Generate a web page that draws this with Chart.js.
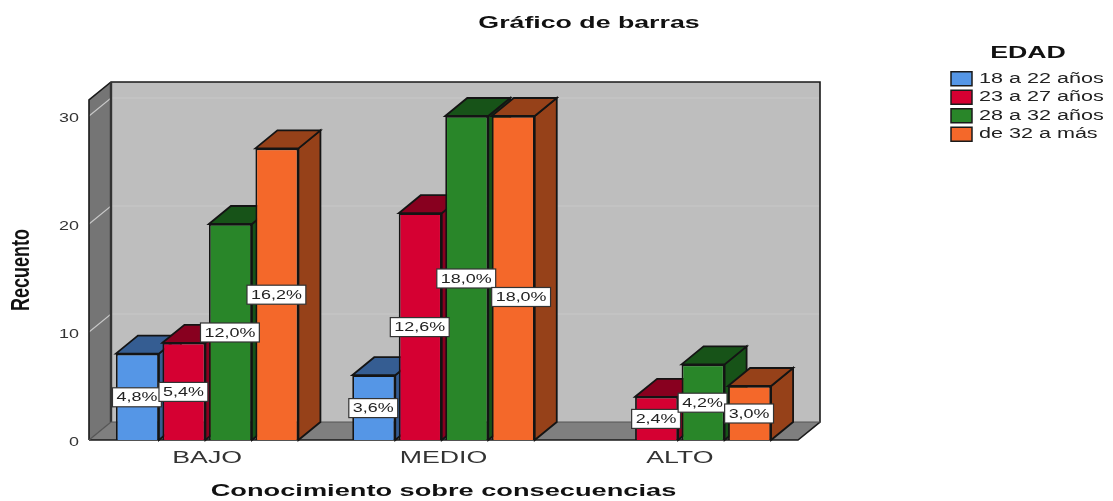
<!DOCTYPE html>
<html><head><meta charset="utf-8">
<style>html,body{margin:0;padding:0;background:#fff}canvas{display:block}</style>
<script src="https://cdn.jsdelivr.net/npm/chart.js@4/dist/chart.umd.js"></script>
</head><body><canvas id="c" width="1113" height="501"></canvas>
<script>
const categories = ['BAJO','MEDIO','ALTO'];
const seriesNames = ['18 a 22 años','23 a 27 años','28 a 32 años','de 32 a más'];
const joven = [8,6,null];
const adulto = [9,21,4];
const medio = [20,30,7];
const mayor = [27,30,5];
const jovenPct = ['4,8%','3,6%',null];
const adultoPct = ['5,4%','12,6%','2,4%'];
const medioPct = ['12,0%','18,0%','4,2%'];
const mayorPct = ['16,2%','18,0%','3,0%'];
const yTicks = [0,10,20,30];
const fronts = ['#5596E6','#D50032','#298629','#F4682A'];
const tops = ['#355D92','#88001F','#175318','#964119'];
const FONT = '"Liberation Sans", Arial, sans-serif';
const DX = 22, DY = 18;

const canvas = document.getElementById('c');
const ctx = canvas.getContext('2d');
const stretch = {'13px':1.38,'14px':1.54,'16px':1.67,'17px':1.6,'25px':0.72};
const rawFill = ctx.fillText.bind(ctx);
ctx.fillText = function(t,x,y,m){
  const k = (ctx.font.match(/(\d+)px/)||[])[0];
  const s = stretch[k]||1;
  ctx.save(); ctx.translate(x,y); ctx.scale(s,1);
  rawFill(t,0,0);
  ctx.restore();
};

function poly(c,pts,fill,stroke,lw){
  c.beginPath(); pts.forEach((p,i)=>i?c.lineTo(p[0],p[1]):c.moveTo(p[0],p[1])); c.closePath();
  if(fill){c.fillStyle=fill;c.fill();}
  if(stroke){c.strokeStyle=stroke;c.lineWidth=lw||1.5;c.stroke();}
}
const scene = {
  id:'scene',
  beforeDraw(chart){
    chart.titleBlock.left = 0; chart.titleBlock.right = 1178;
    const lg = chart.legend;
    lg.left = 946.5; lg.top = 41; lg.width = 163; lg.right = 1109.5; lg.bottom = 160; lg.height = 119;
  },
  beforeDatasetsDraw(chart){
    const c = chart.ctx, a = chart.chartArea, ys = chart.scales.y;
    const L=a.left,R=a.right,T=a.top,B=a.bottom;
    c.save();
    poly(c,[[L+DX,T-DY],[R+DX,T-DY],[R+DX,B-DY],[L+DX,B-DY]],'#BEBEBE');
    poly(c,[[L,T],[L+DX,T-DY],[L+DX,B-DY],[L,B]],'#757575');
    poly(c,[[L,B],[R,B],[R+DX,B-DY],[L+DX,B-DY]],'#7F7F7F');
    c.strokeStyle='#C8C8C8'; c.lineWidth=1.2;
    yTicks.slice(1).forEach(v=>{
      const y=ys.getPixelForValue(v);
      c.beginPath(); c.moveTo(L,y); c.lineTo(L+DX,y-DY); c.lineTo(R+DX,y-DY); c.stroke();
    });
    c.strokeStyle='#1A1A1A'; c.lineWidth=1.6;
    c.beginPath(); c.moveTo(L,B); c.lineTo(L,T); c.lineTo(L+DX,T-DY); c.lineTo(R+DX,T-DY); c.lineTo(R+DX,B-DY); c.lineTo(R,B); c.lineTo(L,B); c.stroke();
    c.lineWidth=2.4; c.strokeStyle='#333';
    c.beginPath(); c.moveTo(L+DX,T-DY); c.lineTo(L+DX,B-DY); c.stroke();
    c.lineWidth=1.2; c.strokeStyle='#555';
    c.beginPath(); c.moveTo(L+DX,B-DY); c.lineTo(R+DX,B-DY); c.stroke();
    c.beginPath(); c.moveTo(L,B); c.lineTo(L+DX,B-DY); c.stroke();
    chart.data.datasets.forEach((ds,i)=>{
      const meta = chart.getDatasetMeta(i);
      meta.data.forEach((b,j)=>{
        if(ds.data[j]==null) return;
        const x0=b.x-b.width/2,x1=b.x+b.width/2,yt=b.y,yb=b.base;
        poly(c,[[x1,yt],[x1+DX,yt-DY],[x1+DX,yb-DY],[x1,yb]],tops[i],'#141414',1.8);
        poly(c,[[x0,yt],[x0+DX,yt-DY],[x1+DX,yt-DY],[x1,yt]],tops[i],'#141414',1.8);
      });
      meta.controller.draw();
    });
    c.restore();
    return false;
  },
  afterDraw(chart){
    const c = chart.ctx;
    const texts=[jovenPct,adultoPct,medioPct,mayorPct];
    c.save();
    c.font='13px '+FONT;
    categories.forEach((_,j)=>{
      let prev=null;
      texts.forEach((arr,i)=>{
        const t=arr[j];
        if(!t) return;
        const b=chart.getDatasetMeta(i).data[j];
        let cx=b.x-0.5;
        let cy=(b.y+b.base)/2+0.5;
        const w=c.measureText(t).width*1.38+8, h=19;
        // a label level with its overlapping neighbour steps down and right of it
        if(prev && Math.abs(prev.cy-cy)<2 && prev.cx+prev.w/2>cx-w/2){
          cy+=h-0.5;
          cx=prev.cx+prev.w/2-4+w/2;
        }
        prev={cx,cy,w};
        c.fillStyle='#FFFFFF'; c.strokeStyle='#333'; c.lineWidth=1.2;
        c.fillRect(cx-w/2,cy-h/2,w,h); c.strokeRect(cx-w/2,cy-h/2,w,h);
        c.fillStyle='#222'; c.textAlign='center'; c.textBaseline='middle';
        c.fillText(t,cx,cy+0.5);
      });
    });
    c.restore();
  }
};

new Chart(ctx,{
  type:'bar',
  plugins:[scene],
  data:{labels:categories,datasets:[joven,adulto,medio,mayor].map((d,i)=>({
    label:seriesNames[i],data:d,backgroundColor:fronts[i],borderColor:'#141414',borderWidth:1.8,
    categoryPercentage:0.787,barPercentage:0.925
  }))},
  options:{
    responsive:false,animation:false,
    layout:{padding:{left:0,top:0,bottom:0,right:315}},
    plugins:{
      title:{display:true,text:'Gráfico de barras',color:'#111',
        font:{family:FONT,size:16,weight:'bold',lineHeight:1.2},padding:{top:14,bottom:66.8}},
      legend:{display:true,position:'chartArea',align:'start',
        title:{display:true,text:'EDAD',color:'#111',font:{family:FONT,size:16,weight:'bold',lineHeight:1.2},padding:{top:5,bottom:2}},
        labels:{color:'#222',font:{family:FONT,size:14},boxWidth:21,boxHeight:14,padding:4.5,
          generateLabels(chart){
            return chart.data.datasets.map((ds,i)=>({text:ds.label,fillStyle:fronts[i],strokeStyle:'#1A1A1A',lineWidth:1.5,fontColor:'#222',datasetIndex:i,hidden:false}));
          }}},
      tooltip:{enabled:false}
    },
    scales:{
      x:{type:'category',grid:{display:false,drawTicks:false},border:{display:false},
        ticks:{color:'#333',font:{family:FONT,size:16},maxRotation:0,autoSkip:false,padding:9},
        title:{display:true,text:'Conocimiento sobre consecuencias',color:'#111',font:{family:FONT,size:17,weight:'bold',lineHeight:1.2},padding:{top:0,bottom:-1}},
        afterFit(s){s.height=61;}
      },
      y:{min:0,max:31.48,grid:{display:false,drawTicks:false},border:{display:false},
        ticks:{color:'#333',font:{family:FONT,size:13},stepSize:10,includeBounds:false,padding:10,labelOffset:2.5},
        title:{display:true,text:'Recuento',color:'#111',font:{family:FONT,size:25,weight:'bold',lineHeight:1.2},padding:{top:7,bottom:0}},
        afterFit(s){s.width=89;}
      }
    }
  }
});
</script></body></html>
